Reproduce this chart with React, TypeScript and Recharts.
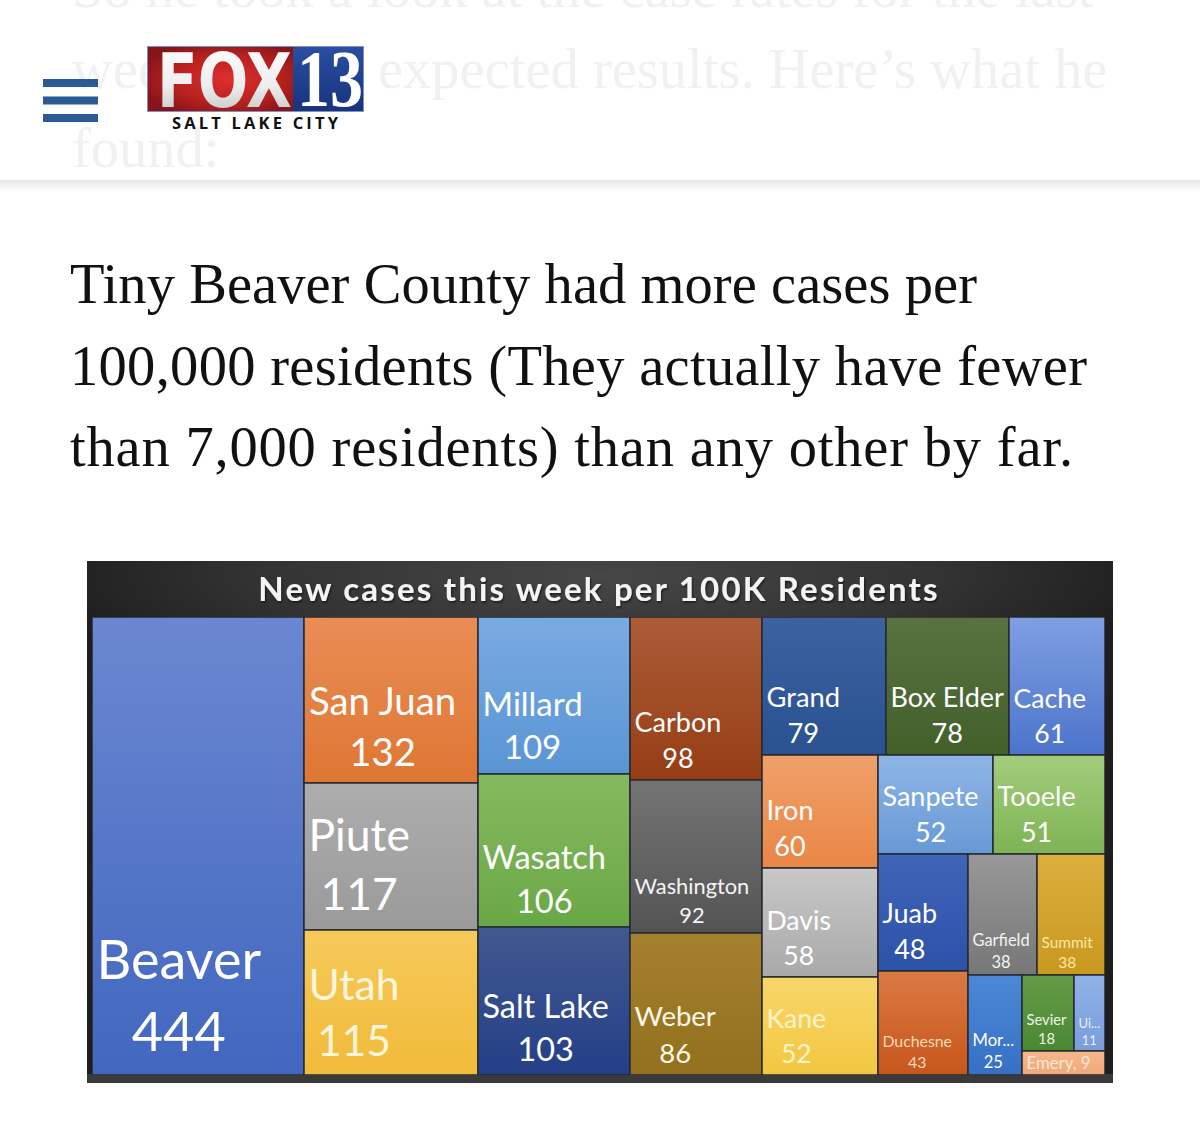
import React from 'react';
import { Treemap } from 'recharts';

// New COVID-19 cases this week per 100K residents, by Utah county
const COUNTIES = [
  'Beaver', 'San Juan', 'Piute', 'Utah', 'Millard', 'Wasatch', 'Salt Lake', 'Carbon', 'Washington',
  'Weber', 'Grand', 'Box Elder', 'Cache', 'Iron', 'Davis', 'Kane', 'Sanpete', 'Tooele', 'Juab',
  'Duchesne', 'Garfield', 'Summit', 'Morgan', 'Sevier', 'Uintah', 'Emery',
];
const CASES_PER_100K = [
  444, 132, 117, 115, 109, 106, 103, 98, 92, 86, 79, 78, 61, 60, 58, 52, 52, 51, 48, 43, 38, 38, 25, 18, 11, 9,
];

const CHART_TITLE = 'New cases this week per 100K Residents';

// Tile nesting: each group becomes one strip of the treemap
type Group = string | Group[];
const TILE_GROUPS: Group[] = [
  'Beaver',
  ['San Juan', 'Piute', 'Utah'],
  ['Millard', 'Wasatch', 'Salt Lake'],
  ['Carbon', 'Washington', 'Weber'],
  [
    ['Grand', 'Box Elder', 'Cache'],
    [
      ['Iron', 'Davis', 'Kane'],
      [
        ['Sanpete', 'Tooele'],
        [
          ['Juab', 'Duchesne'],
          [
            ['Garfield', 'Summit'],
            ['Morgan', [['Sevier', 'Uintah'], 'Emery']],
          ],
        ],
      ],
    ],
  ],
];

const ARTICLE_FADED = [
  'So he took a look at the case rates for the last',
  'week',
  'expected results. Here\u2019s what he',
  'found:',
];
const ARTICLE_LINES = [
  'Tiny Beaver County had more cases per',
  '100,000 residents (They actually have fewer',
  'than 7,000 residents) than any other by far.',
];

// Tile look: gradient top/bottom colour, label size, label colour
type TileStyle = { top: string; bottom: string; size: number; ink: string };
const TILE_STYLE: Record<string, TileStyle> = {
  Beaver: { top: '#6b87d1', bottom: '#4167bf', size: 54, ink: '#ffffff' },
  'San Juan': { top: '#e98d55', bottom: '#df7633', size: 38.3, ink: '#ffffff' },
  Piute: { top: '#adadad', bottom: '#9a9a9a', size: 44.5, ink: '#ffffff' },
  Utah: { top: '#f6c95a', bottom: '#f1bb3a', size: 42.5, ink: '#fff6dc' },
  Millard: { top: '#7aaae2', bottom: '#5995d4', size: 33, ink: '#ffffff' },
  Wasatch: { top: '#86b95f', bottom: '#69a846', size: 32.6, ink: '#ffffff' },
  'Salt Lake': { top: '#41598f', bottom: '#243f88', size: 32.4, ink: '#ffffff' },
  Carbon: { top: '#ab5d38', bottom: '#963d14', size: 27, ink: '#ffffff' },
  Washington: { top: '#747474', bottom: '#545454', size: 21.8, ink: '#f4f4f4' },
  Weber: { top: '#a5812f', bottom: '#93701d', size: 27.5, ink: '#fff8e6' },
  Grand: { top: '#3c62a0', bottom: '#2a5190', size: 27.3, ink: '#ffffff' },
  'Box Elder': { top: '#587341', bottom: '#435f2a', size: 27, ink: '#ffffff' },
  Cache: { top: '#7f9fe2', bottom: '#4c74cb', size: 26.6, ink: '#ffffff' },
  Iron: { top: '#efa06a', bottom: '#ea8646', size: 27, ink: '#ffffff' },
  Davis: { top: '#c8c8c8', bottom: '#a9a9a9', size: 26.6, ink: '#ffffff' },
  Kane: { top: '#f8d76a', bottom: '#f2c640', size: 26.6, ink: '#fff3cc' },
  Sanpete: { top: '#8fb6e6', bottom: '#6798d6', size: 27, ink: '#ffffff' },
  Tooele: { top: '#a3cc7a', bottom: '#7db454', size: 27, ink: '#ffffff' },
  Juab: { top: '#4064b8', bottom: '#2c52a8', size: 27, ink: '#ffffff' },
  Duchesne: { top: '#db7a44', bottom: '#c7561c', size: 15.8, ink: '#fbdcb8' },
  Garfield: { top: '#989898', bottom: '#777777', size: 16.4, ink: '#f4f4f4' },
  Summit: { top: '#dcae3c', bottom: '#c8981f', size: 15.4, ink: '#fbe7a4' },
  Morgan: { top: '#4d88d6', bottom: '#3570c4', size: 16.6, ink: '#ffffff' },
  Sevier: { top: '#649c48', bottom: '#4a8832', size: 14.8, ink: '#eef4e6' },
  Uintah: { top: '#90b2e8', bottom: '#7a9dda', size: 13, ink: '#e8effc' },
  Emery: { top: '#f6b88c', bottom: '#f0a878', size: 16.8, ink: '#fde6d6' },
};

const LABEL_FONT = 'Lato';
const SERIF = '"Liberation Serif", "Times New Roman", serif';

const casesByCounty: Record<string, number> = Object.fromEntries(
  COUNTIES.map((c, i) => [c, CASES_PER_100K[i]]),
);

let groupSeq = 0;
const buildNode = (g: Group): any =>
  typeof g === 'string'
    ? { name: g, value: casesByCounty[g] }
    : { name: `tile-group-${groupSeq++}`, children: g.map(buildNode) };

const TREE_DATA = TILE_GROUPS.map(buildNode);

let measureCtx: CanvasRenderingContext2D | null = null;
const textWidth = (text: string, size: number) => {
  if (!measureCtx) measureCtx = document.createElement('canvas').getContext('2d');
  if (!measureCtx) return text.length * size * 0.5;
  measureCtx.font = `${size}px ${LABEL_FONT}`;
  return measureCtx.measureText(text).width;
};

// Shorten a label with "..." until it fits the tile
const fitLabel = (text: string, size: number, maxW: number) => {
  if (textWidth(text, size) <= maxW) return text;
  for (let n = text.length - 1; n > 0; n--) {
    const t = `${text.slice(0, n)}...`;
    if (textWidth(t, size) <= maxW) return t;
  }
  return `${text.slice(0, 1)}...`;
};

const CountyTile = (props: any) => {
  const { x, y, width, height, name, value } = props;
  const style = TILE_STYLE[name];
  if (!style || width <= 0 || height <= 0) return <g />;
  const gid = `tile-grad-${name.replace(/\s+/g, '-')}`;
  const fs = style.size;
  const lineH = fs * 1.33;
  const padX = 4.5;
  const maxW = width - padX - 2.5;
  const twoLines = height >= lineH * 2 + fs * 0.3;

  let labels: React.ReactNode;
  if (twoLines) {
    const title = fitLabel(name, fs, maxW);
    const valueText = String(value);
    const blockW = Math.max(textWidth(title, fs), textWidth(valueText, fs));
    const cx = x + padX + blockW / 2;
    const valueBase = y + height - fs * 0.44;
    labels = (
      <text fontFamily={LABEL_FONT} fontSize={fs} fill={style.ink} textAnchor="middle">
        <tspan x={cx} y={valueBase - lineH}>{title}</tspan>
        <tspan x={cx} y={valueBase}>{valueText}</tspan>
      </text>
    );
  } else {
    const line = fitLabel(`${name}, ${value}`, fs, maxW);
    labels = (
      <text
        x={x + padX}
        y={y + height / 2 + fs * 0.36}
        fontFamily={LABEL_FONT}
        fontSize={fs}
        fill={style.ink}
      >
        {line}
      </text>
    );
  }

  return (
    <g>
      <defs>
        <linearGradient id={gid} x1="0" y1="0" x2="0" y2="1">
          <stop offset="0" stopColor={style.top} />
          <stop offset="1" stopColor={style.bottom} />
        </linearGradient>
      </defs>
      <rect x={x} y={y} width={width} height={height} fill={`url(#${gid})`} stroke="#262a30" strokeWidth={1.5} />
      {labels}
    </g>
  );
};

const FRAME = { x: 87, y: 561, w: 1026, h: 522 };
const MAP = { x: 92, y: 617, w: 1013, h: 458 };

const PageBackdrop = () => (
  <svg width={1200} height={1141} style={{ position: 'absolute', left: 0, top: 0 }}>
    <defs>
      <radialGradient id="foxRed" cx="0.55" cy="0.5" r="0.62">
        <stop offset="0" stopColor="#de2e2f" />
        <stop offset="0.6" stopColor="#b8211f" />
        <stop offset="1" stopColor="#85151a" />
      </radialGradient>
      <linearGradient id="foxBlue" x1="0" y1="0" x2="0" y2="1">
        <stop offset="0" stopColor="#2a4ea3" />
        <stop offset="1" stopColor="#18337c" />
      </linearGradient>
      <linearGradient id="foxSilver" x1="0" y1="0" x2="0" y2="1">
        <stop offset="0" stopColor="#ffffff" />
        <stop offset="0.55" stopColor="#eeeeee" />
        <stop offset="1" stopColor="#b9b9b9" />
      </linearGradient>
      <linearGradient id="headShadow" x1="0" y1="0" x2="0" y2="1">
        <stop offset="0" stopColor="#e6e6e6" />
        <stop offset="1" stopColor="#ffffff" />
      </linearGradient>
      <radialGradient id="frameGlow" cx="0.5" cy="0.03" r="0.55" gradientTransform="translate(0.5 0.03) scale(1 0.4) translate(-0.5 -0.03)">
        <stop offset="0" stopColor="#474747" />
        <stop offset="0.6" stopColor="#333333" />
        <stop offset="1" stopColor="#1e1e1e" />
      </radialGradient>
      <filter id="titleShadow" x="-5%" y="-30%" width="110%" height="160%">
        <feDropShadow dx="1" dy="1.5" stdDeviation="1.2" floodColor="#000" floodOpacity="0.6" />
      </filter>
    </defs>

    <rect x={0} y={0} width={1200} height={1141} fill="#ffffff" />

    {/* header bar with faded article text behind it */}
    <rect x={0} y={180} width={1200} height={12} fill="url(#headShadow)" />
    <g fontFamily={SERIF} fontSize={56.5} fill="#f1f1f1">
      <text x={72} y={7}>{ARTICLE_FADED[0]}</text>
      <text x={72} y={88}>{ARTICLE_FADED[1]}</text>
      <text x={378} y={88}>{ARTICLE_FADED[2]}</text>
      <text x={72} y={167}>{ARTICLE_FADED[3]}</text>
    </g>

    {/* menu icon */}
    <g fill="#2b5b95">
      <rect x={43} y={79} width={55} height={8} />
      <rect x={43} y={96.5} width={55} height={8} />
      <rect x={43} y={114} width={55} height={8} />
    </g>

    {/* station logo */}
    <rect x={147} y={46} width={217} height={66} fill="#8090c0" />
    <rect x={148} y={47} width={145} height={64} fill="url(#foxRed)" />
    <rect x={293} y={47} width={70} height={64} fill="url(#foxBlue)" />
    <text x={157} y={107} fontFamily="DejaVu Sans" fontWeight="bold" fontSize={75} textLength={135} lengthAdjust="spacingAndGlyphs" fill="url(#foxSilver)">FOX</text>
    <text x={297} y={106} fontFamily={SERIF} fontWeight="bold" fontSize={80} textLength={66} lengthAdjust="spacingAndGlyphs" fill="#ffffff">13</text>
    <text x={172} y={129} fontFamily="'Open Sans', sans-serif" fontWeight="bold" fontSize={16.5} textLength={166} lengthAdjust="spacing" fill="#111111">SALT LAKE CITY</text>

    {/* article paragraph */}
    <g fontFamily={SERIF} fontSize={56.5} fill="#111111">
      <text x={70} y={303} textLength={907} lengthAdjust="spacing">{ARTICLE_LINES[0]}</text>
      <text x={70} y={385} textLength={1017} lengthAdjust="spacing">{ARTICLE_LINES[1]}</text>
      <text x={70} y={466} textLength={1003} lengthAdjust="spacing">{ARTICLE_LINES[2]}</text>
    </g>

    {/* chart frame and title */}
    <rect x={FRAME.x} y={FRAME.y} width={FRAME.w} height={FRAME.h} fill="url(#frameGlow)" />
    <rect x={FRAME.x} y={FRAME.y + FRAME.h - 9} width={FRAME.w} height={9} fill="#3a3a3a" />
    <text
      x={599}
      y={601}
      textAnchor="middle"
      fontFamily={LABEL_FONT}
      fontWeight="bold"
      fontSize={33}
      letterSpacing={2.2}
      fill="#f4f4f4"
      filter="url(#titleShadow)"
    >
      {CHART_TITLE}
    </text>
  </svg>
);

export default function App() {
  return (
    <div style={{ position: 'absolute', left: 0, top: 0, width: 1200, height: 1141, overflow: 'hidden', background: '#fff' }}>
      <PageBackdrop />
      <div style={{ position: 'absolute', left: MAP.x, top: MAP.y, width: MAP.w, height: MAP.h }}>
        <Treemap
          width={MAP.w}
          height={MAP.h}
          data={TREE_DATA}
          dataKey="value"
          nameKey="name"
          aspectRatio={1e-6}
          isAnimationActive={false}
          content={<CountyTile />}
        />
      </div>
    </div>
  );
}
